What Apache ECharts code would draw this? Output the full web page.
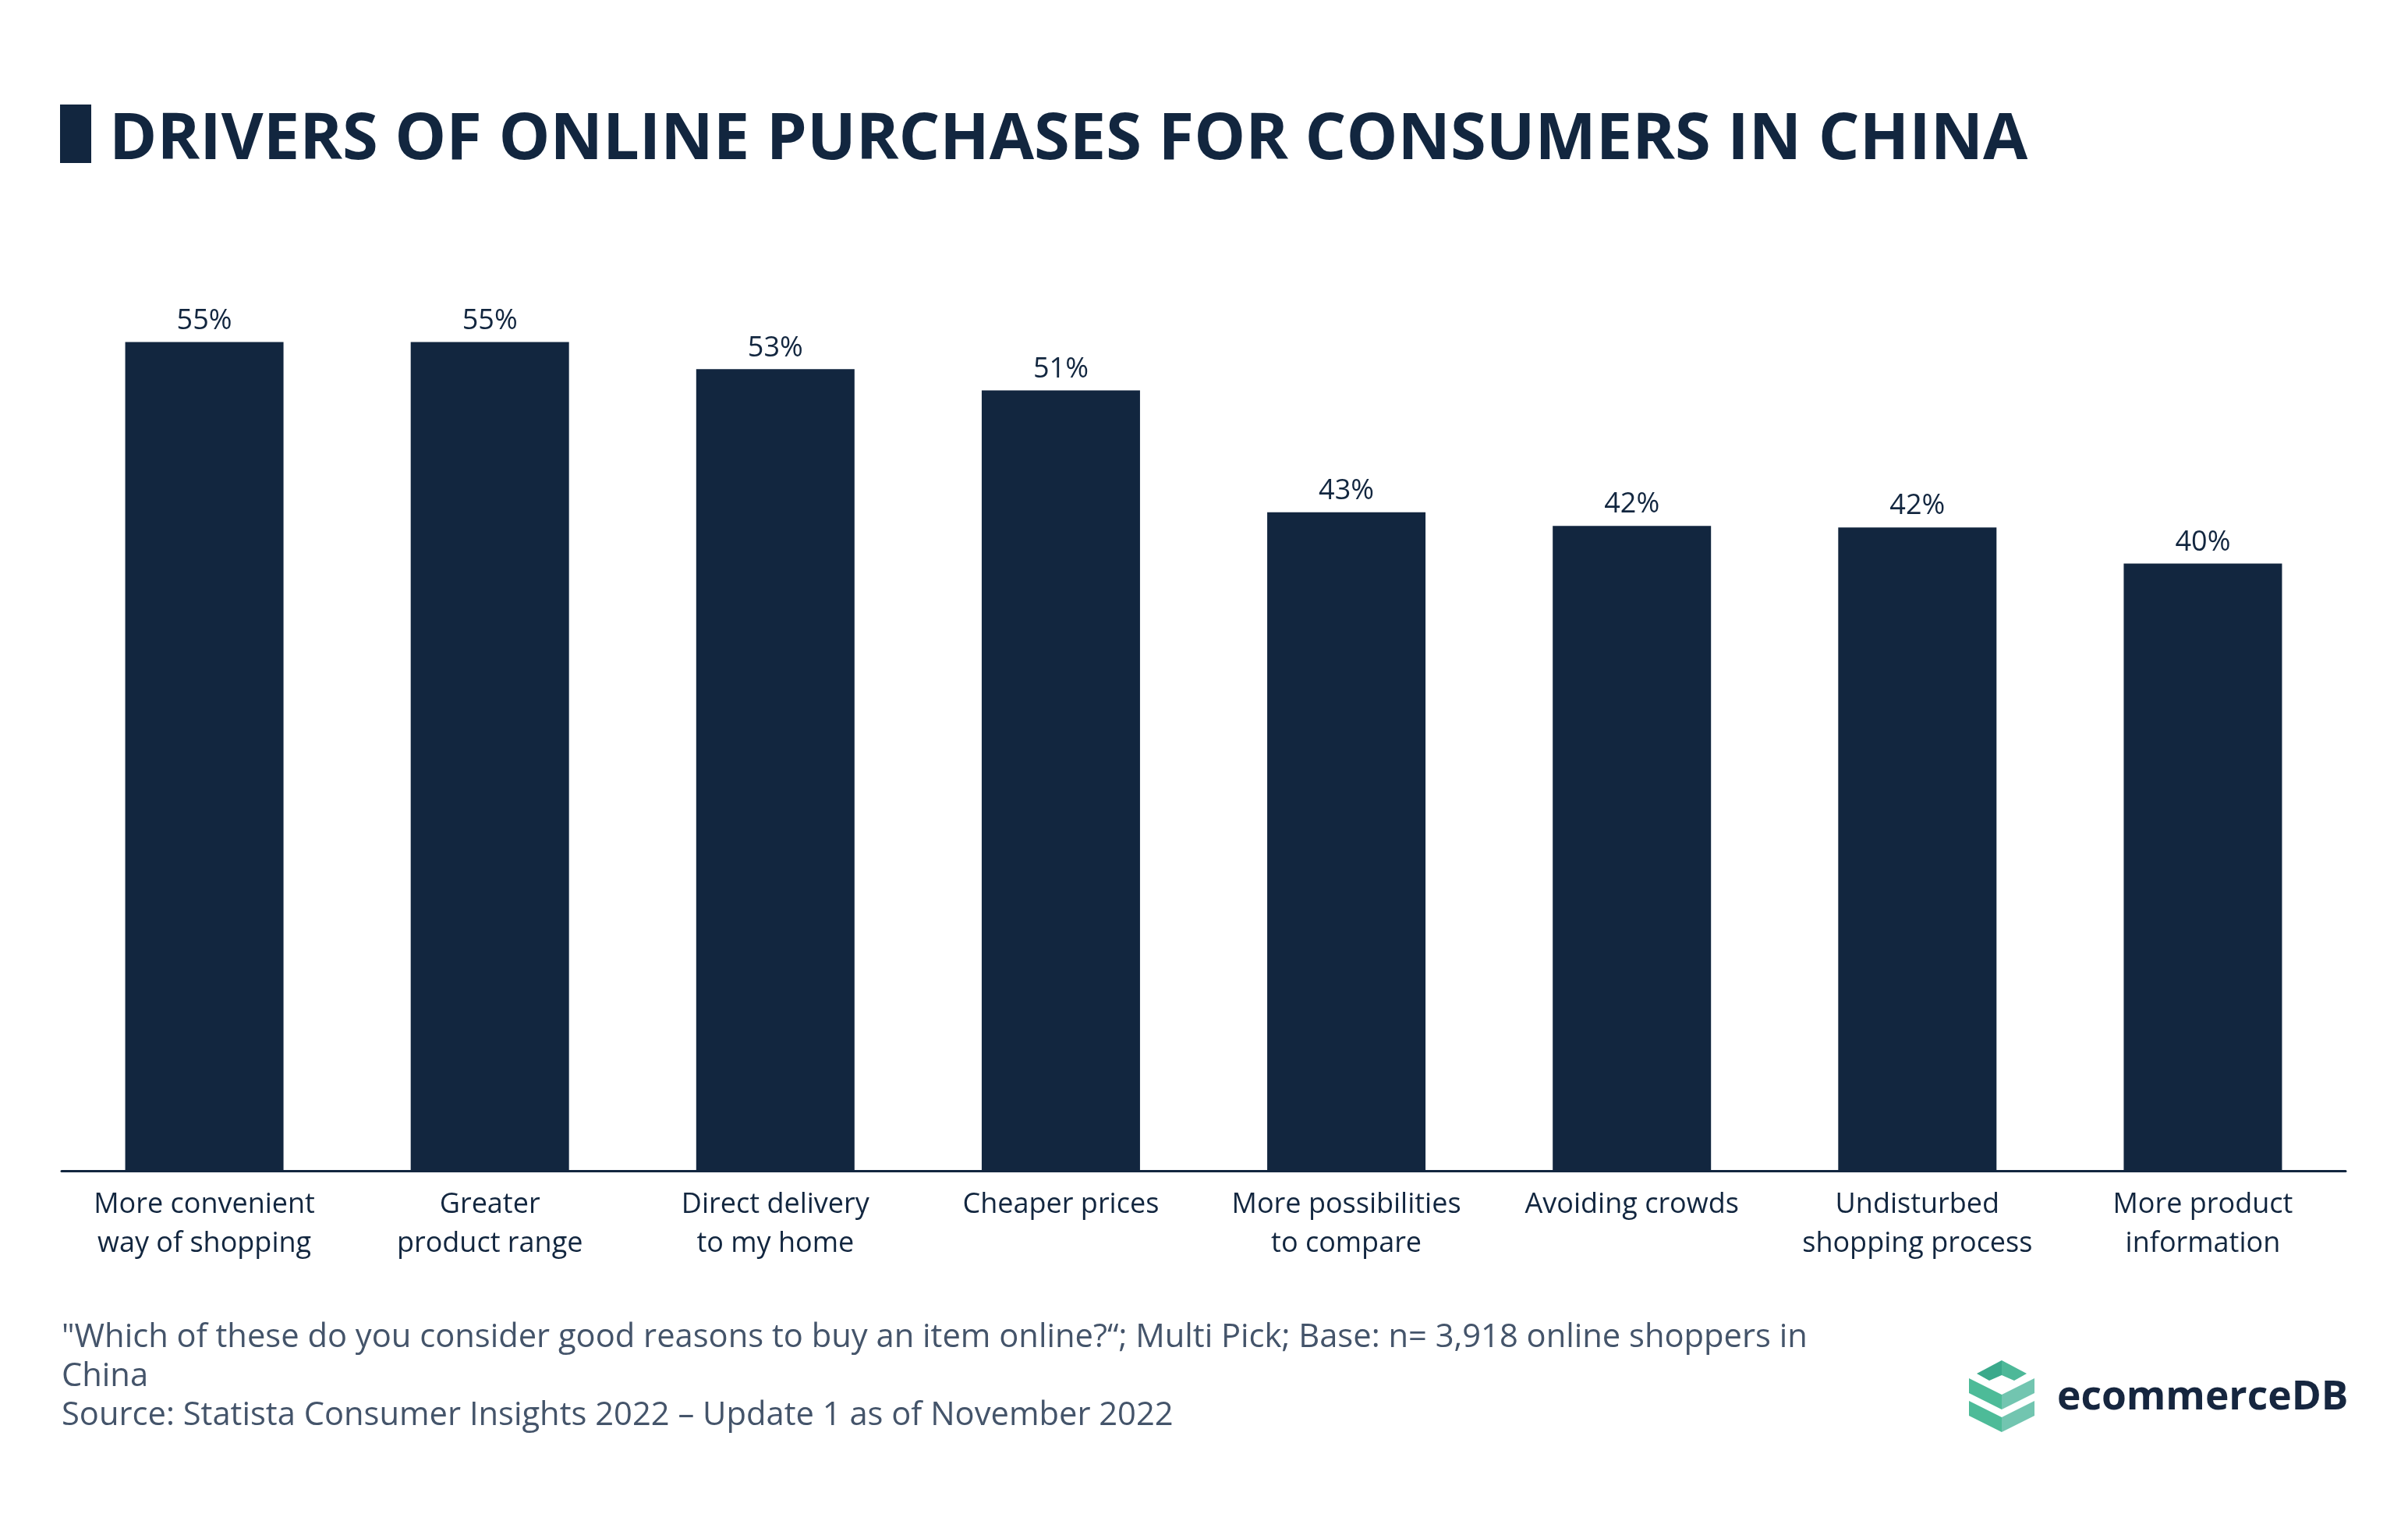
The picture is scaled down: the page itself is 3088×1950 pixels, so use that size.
<!DOCTYPE html>
<html>
<head>
<meta charset="utf-8">
<title>Drivers of online purchases for consumers in China</title>
<script src="https://cdn.jsdelivr.net/npm/echarts@6/dist/echarts.min.js"></script>
<style>
	html, body {
		margin: 0;
		padding: 0;
		background: #ffffff;
	}
	#main {
		width: 3088px;
		height: 1950px;
	}
</style>
</head>
<body>
<div id="main"></div>
<script>
// categories (x axis), two lines each
var categories = [
	'More convenient\nway of shopping',
	'Greater\nproduct range',
	'Direct delivery\nto my home',
	'Cheaper prices',
	'More possibilities\nto compare',
	'Avoiding crowds',
	'Undisturbed\nshopping process',
	'More product\ninformation'
];
// share of respondents in %
var shares = [55.0, 55.0, 53.2, 51.8, 43.7, 42.8, 42.7, 40.3];
// labels as printed above the bars
var shareLabels = ['55%', '55%', '53%', '51%', '43%', '42%', '42%', '40%'];

var titleText = 'DRIVERS OF ONLINE PURCHASES FOR CONSUMERS IN CHINA';
var noteText = '"Which of these do you consider good reasons to buy an item online?\u201c; Multi Pick; Base: n= 3,918 online shoppers in\nChina\nSource: Statista Consumer Insights 2022 \u2013 Update 1 as of November 2022';

var navy = '#12263f';
var font = '"Open Sans", "Noto Sans", sans-serif';

var myChart = echarts.init(document.getElementById('main'), null, {renderer: 'canvas'});
let option = {
	backgroundColor: '#ffffff',
	animation: false,
	textStyle: {
		fontFamily: font
	},
	grid: {
		left: 79,
		right: 80,
		top: 342,
		bottom: 449,
		containLabel: false
	},
	xAxis: {
		type: 'category',
		data: categories,
		axisLine: {
			lineStyle: {color: navy, width: 3}
		},
		axisTick: {show: false},
		axisLabel: {
			color: navy,
			fontSize: 36,
			lineHeight: 50,
			margin: 19,
			interval: 0
		}
	},
	yAxis: {
		type: 'value',
		min: 0,
		max: 60,
		show: false,
		splitLine: {show: false}
	},
	series: [{
		type: 'bar',
		data: shares,
		barWidth: 203,
		itemStyle: {color: navy},
		label: {
			show: true,
			position: 'top',
			distance: 9,
			color: navy,
			fontSize: 36,
			formatter: function (p) {
				return shareLabels[p.dataIndex];
			}
		}
	}],
	graphic: [
		// title marker
		{
			type: 'rect',
			shape: {x: 77, y: 134, width: 40, height: 75},
			style: {fill: navy}
		},
		{
			type: 'text',
			x: 140,
			y: 180,
			style: {
				text: titleText,
				font: 'bold 83px ' + font,
				fill: navy,
				verticalAlign: 'middle'
			}
		},
		// footnote
		{
			type: 'text',
			x: 79,
			y: 1690,
			style: {
				text: noteText,
				font: '41.7px ' + font,
				lineHeight: 50,
				fill: '#44546a',
				verticalAlign: 'top'
			}
		},
		// logo icon
		{
			type: 'group',
			children: [
				{type: 'polygon', shape: {points: [[2535, 1761], [2567, 1744], [2567, 1763], [2551, 1770]]}, style: {fill: '#3aa98b'}},
				{type: 'polygon', shape: {points: [[2567, 1744], [2599, 1761], [2583, 1770], [2567, 1763]]}, style: {fill: '#4db898'}},
				{type: 'polygon', shape: {points: [[2525, 1767], [2567, 1788], [2567, 1807], [2525, 1786]]}, style: {fill: '#4dbb98'}},
				{type: 'polygon', shape: {points: [[2567, 1788], [2609, 1767], [2609, 1786], [2567, 1807]]}, style: {fill: '#72c5b0'}},
				{type: 'polygon', shape: {points: [[2525, 1796], [2567, 1817], [2567, 1836], [2525, 1815]]}, style: {fill: '#4dbb98'}},
				{type: 'polygon', shape: {points: [[2567, 1817], [2609, 1796], [2609, 1815], [2567, 1836]]}, style: {fill: '#72c5b0'}}
			]
		},
		{
			type: 'text',
			x: 2638,
			y: 1792,
			style: {
				text: 'ecommerceDB',
				font: 'bold 51.5px ' + font,
				fill: '#16263f',
				verticalAlign: 'middle'
			}
		}
	]
};
myChart.setOption(option);
</script>
</body>
</html>
